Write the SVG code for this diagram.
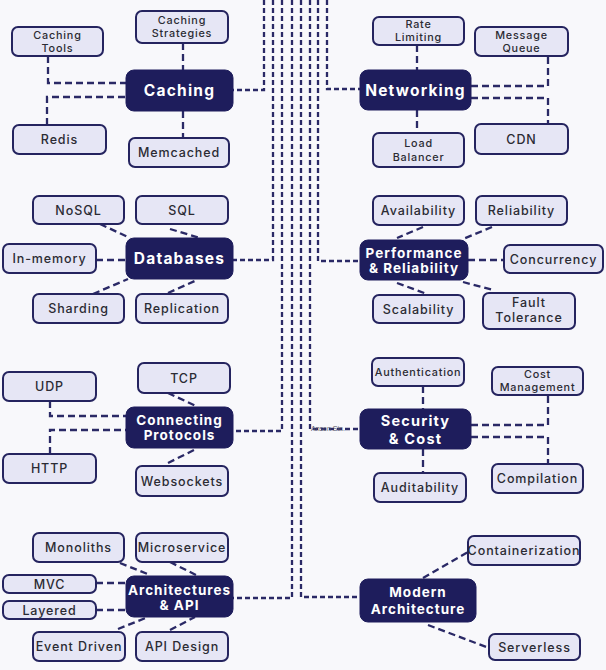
<svg xmlns="http://www.w3.org/2000/svg" width="606" height="670" viewBox="0 0 606 670">
<style>
  .bg { fill: #f8f8fb; }
  .sub rect { fill: #e6e6f5; stroke: #25245f; stroke-width: 2; }
  .sub text { fill: #2b2b33; font-family: Inter, "Noto Sans", "Liberation Sans", sans-serif; font-size: 12.5px; font-weight: 500; letter-spacing: 0.9px; text-anchor: middle; dominant-baseline: central; }
  .sub text.sm { font-size: 10.8px; letter-spacing: 0.8px; }
  .main rect { fill: #1e1d5c; stroke: #1e1d5c; stroke-width: 1; }
  .main text { fill: #ffffff; font-family: Inter, "Noto Sans", "Liberation Sans", sans-serif; font-size: 15.5px; font-weight: 700; letter-spacing: 1.2px; text-anchor: middle; dominant-baseline: central; }
  .main text.two { font-size: 13.5px; letter-spacing: 1px; }
  .main text.two15 { font-size: 14.5px; letter-spacing: 1.2px; }
  .conn path { fill: none; stroke: #2a2966; stroke-width: 2.3; stroke-dasharray: 7 4; }
  .conn path.bus { stroke-width: 2.3; stroke-dasharray: 5 3; }
  .sig { fill: #55556a; font-family: "Liberation Sans", sans-serif; font-size: 7px; }
</style>
<rect class="bg" x="0" y="0" width="606" height="670"/>

<g id="connectors" class="conn">
  <path class="bus" d="M264,0 V90 H233"/>
  <path class="bus" d="M273,0 V260 H233"/>
  <path class="bus" d="M282,0 V431 H233"/>
  <path class="bus" d="M292,0 V598 H233"/>
  <path class="bus" d="M301,0 V597 H360"/>
  <path class="bus" d="M310,0 V429 H360"/>
  <path class="bus" d="M318,0 V261 H360"/>
  <path class="bus" d="M327,0 V89 H360"/>
  <path d="M48,56 V83 H126"/>
  <path d="M47,125 V97 H126"/>
  <path d="M183,43 V70"/>
  <path d="M183,111 V138"/>
  <path d="M417,45 V70"/>
  <path d="M417,110 V133"/>
  <path d="M471,86 H548 V56"/>
  <path d="M471,98 H548 V124"/>
  <path d="M100,224 L130,238"/>
  <path d="M170,229 L200,238"/>
  <path d="M96,260 H126"/>
  <path d="M93,294 L128,279"/>
  <path d="M168,293 L197,280"/>
  <path d="M423,227 L397,238"/>
  <path d="M492,227 L463,239"/>
  <path d="M468,260 H504"/>
  <path d="M397,283 L427,294"/>
  <path d="M463,282 L493,290"/>
  <path d="M50,401 V416 H126"/>
  <path d="M50,454 V430 H126"/>
  <path d="M168,393 L196,406"/>
  <path d="M168,463 L196,449"/>
  <path d="M423,386 V409"/>
  <path d="M423,449 V473"/>
  <path d="M471,425 H548 V395"/>
  <path d="M471,437 H548 V464"/>
  <path d="M120,563 L150,575"/>
  <path d="M170,562 L196,575"/>
  <path d="M96,583 H126"/>
  <path d="M96,610 H126"/>
  <path d="M118,629 L148,617"/>
  <path d="M170,630 L195,617"/>
  <path d="M423,578 L468,552"/>
  <path d="M428,625 L489,648"/>
  <text class="sig" x="311" y="431">Anson Sin.</text>
</g>

<g id="caching" class="main"><rect x="126" y="70" width="107" height="41" rx="8"/><text x="179.5" y="90.5">Caching</text></g>
<g id="caching-tools" class="sub"><rect x="12" y="27" width="91" height="29" rx="6"/><text class="sm" x="57.5" y="35.5">Caching</text><text class="sm" x="57.5" y="48.5">Tools</text></g>
<g id="caching-strategies" class="sub"><rect x="136" y="11" width="92" height="32" rx="6"/><text class="sm" x="182" y="20.5">Caching</text><text class="sm" x="182" y="33.5">Strategies</text></g>
<g id="redis" class="sub"><rect x="13" y="125" width="93" height="29" rx="6"/><text x="59.5" y="139.5">Redis</text></g>
<g id="memcached" class="sub"><rect x="129" y="138" width="100" height="29" rx="6"/><text x="179" y="152.5">Memcached</text></g>

<g id="networking" class="main"><rect x="360" y="70" width="111" height="40" rx="8"/><text x="415.5" y="90">Networking</text></g>
<g id="rate-limiting" class="sub"><rect x="373" y="17" width="91" height="28" rx="6"/><text class="sm" x="418.5" y="24.5">Rate</text><text class="sm" x="418.5" y="37.5">Limiting</text></g>
<g id="message-queue" class="sub"><rect x="475" y="27" width="93" height="29" rx="6"/><text class="sm" x="521.5" y="35.5">Message</text><text class="sm" x="521.5" y="48.5">Queue</text></g>
<g id="load-balancer" class="sub"><rect x="373" y="133" width="91" height="34" rx="6"/><text class="sm" x="418.5" y="143">Load</text><text class="sm" x="418.5" y="157">Balancer</text></g>
<g id="cdn" class="sub"><rect x="475" y="124" width="93" height="30" rx="6"/><text x="521.5" y="139">CDN</text></g>

<g id="databases" class="main"><rect x="126" y="238" width="107" height="41" rx="8"/><text x="179.5" y="258.5">Databases</text></g>
<g id="nosql" class="sub"><rect x="33" y="196" width="91" height="28" rx="6"/><text x="78.5" y="210">NoSQL</text></g>
<g id="sql" class="sub"><rect x="136" y="196" width="92" height="28" rx="6"/><text x="182" y="210">SQL</text></g>
<g id="in-memory" class="sub"><rect x="3" y="244" width="93" height="29" rx="6"/><text x="49.5" y="258.5">In-memory</text></g>
<g id="sharding" class="sub"><rect x="33" y="294" width="91" height="29" rx="6"/><text x="78.5" y="308.5">Sharding</text></g>
<g id="replication" class="sub"><rect x="136" y="294" width="92" height="29" rx="6"/><text x="182" y="308.5">Replication</text></g>

<g id="performance" class="main"><rect x="360" y="240" width="108" height="40" rx="8"/><text class="two" x="414" y="252.5">Performance</text><text class="two" x="414" y="267.5">&amp; Reliability</text></g>
<g id="availability" class="sub"><rect x="373" y="196" width="91" height="29" rx="6"/><text x="418.5" y="210.5">Availability</text></g>
<g id="reliability" class="sub"><rect x="476" y="196" width="91" height="29" rx="6"/><text x="521.5" y="210.5">Reliability</text></g>
<g id="concurrency" class="sub"><rect x="504" y="245" width="99" height="28" rx="6"/><text x="553.5" y="259">Concurrency</text></g>
<g id="scalability" class="sub"><rect x="373" y="295" width="91" height="28" rx="6"/><text x="418.5" y="309">Scalability</text></g>
<g id="fault-tolerance" class="sub"><rect x="483" y="293" width="92" height="36" rx="6"/><text x="529" y="302.5">Fault</text><text x="529" y="317">Tolerance</text></g>

<g id="connecting-protocols" class="main"><rect x="126" y="407" width="107" height="41" rx="8"/><text class="two" x="179.5" y="419.5">Connecting</text><text class="two" x="179.5" y="434.5">Protocols</text></g>
<g id="udp" class="sub"><rect x="3" y="372" width="93" height="29" rx="6"/><text x="49.5" y="386.5">UDP</text></g>
<g id="tcp" class="sub"><rect x="138" y="363" width="92" height="30" rx="6"/><text x="184" y="378">TCP</text></g>
<g id="http" class="sub"><rect x="3" y="454" width="93" height="29" rx="6"/><text x="49.5" y="468.5">HTTP</text></g>
<g id="websockets" class="sub"><rect x="136" y="466" width="92" height="30" rx="6"/><text x="182" y="481">Websockets</text></g>

<g id="security-cost" class="main"><rect x="360" y="409" width="111" height="40" rx="8"/><text class="two15" x="415.5" y="420">Security</text><text class="two15" x="415.5" y="438">&amp; Cost</text></g>
<g id="authentication" class="sub"><rect x="372" y="358" width="92" height="28" rx="6"/><text class="sm" x="418" y="372" letter-spacing="0.1">Authentication</text></g>
<g id="cost-management" class="sub"><rect x="492" y="367" width="91" height="28" rx="6"/><text class="sm" x="537.5" y="374.5">Cost</text><text class="sm" x="537.5" y="387">Management</text></g>
<g id="auditability" class="sub"><rect x="374" y="473" width="92" height="29" rx="6"/><text x="420" y="487.5">Auditability</text></g>
<g id="compilation" class="sub"><rect x="492" y="464" width="91" height="29" rx="6"/><text x="537.5" y="478.5">Compilation</text></g>

<g id="architectures-api" class="main"><rect x="126" y="576" width="107" height="41" rx="8"/><text class="two" x="179.5" y="589.5">Architectures</text><text class="two" x="179.5" y="604.5">&amp; API</text></g>
<g id="monoliths" class="sub"><rect x="33" y="533" width="91" height="29" rx="6"/><text x="78.5" y="547.5">Monoliths</text></g>
<g id="microservice" class="sub"><rect x="136" y="533" width="92" height="29" rx="6"/><text x="182" y="547.5" letter-spacing="0.4">Microservice</text></g>
<g id="mvc" class="sub"><rect x="3" y="575" width="93" height="18" rx="6"/><text x="49.5" y="584">MVC</text></g>
<g id="layered" class="sub"><rect x="3" y="601" width="93" height="18" rx="6"/><text x="49.5" y="610">Layered</text></g>
<g id="event-driven" class="sub"><rect x="33" y="632" width="92" height="29" rx="6"/><text x="79" y="646.5" letter-spacing="0.4">Event Driven</text></g>
<g id="api-design" class="sub"><rect x="136" y="632" width="92" height="29" rx="6"/><text x="182" y="646.5">API Design</text></g>

<g id="modern-architecture" class="main"><rect x="360" y="579" width="116" height="43" rx="8"/><text class="two" x="418" y="591.5">Modern</text><text class="two" x="418" y="608.5">Architecture</text></g>
<g id="containerization" class="sub"><rect x="468" y="536" width="112" height="29" rx="6"/><text x="524" y="550.5" letter-spacing="0">Containerization</text></g>
<g id="serverless" class="sub"><rect x="489" y="634" width="91" height="26" rx="6"/><text x="534.5" y="647">Serverless</text></g>
</svg>
